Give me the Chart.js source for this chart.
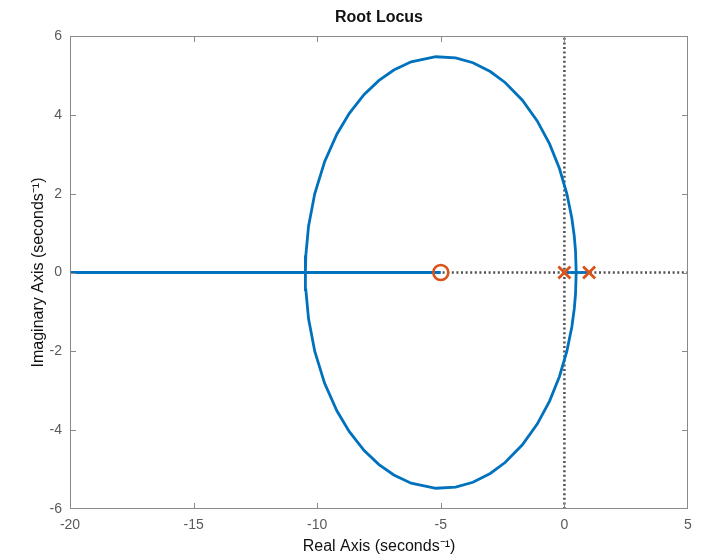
<!DOCTYPE html>
<html>
<head>
<meta charset="utf-8">
<script src="https://cdn.jsdelivr.net/npm/chart.js@4/dist/chart.umd.min.js"></script>
<style>
  html, body { margin: 0; padding: 0; background: #ffffff; }
  #wrap { width: 703px; height: 558px; }
</style>
</head>
<body>
<div id="wrap"><canvas id="c" width="703" height="558"></canvas></div>
<script>
// Root locus branches (real, imaginary parts)
const upperX = [0.477, 0.45, 0.40, 0.30, 0.10, -0.2, -0.6, -1.1, -1.7, -2.4, -3.0, -3.7, -4.4, -5.2, -6.2, -6.9, -7.5, -8.1, -8.7, -9.2, -9.7, -10.1, -10.35, -10.46, -10.477];
const upperY = [0, 0.545, 0.917, 1.382, 1.997, 2.638, 3.262, 3.846, 4.371, 4.821, 5.099, 5.321, 5.444, 5.474, 5.344, 5.137, 4.873, 4.516, 4.039, 3.516, 2.812, 1.997, 1.174, 0.434, 0];
const lowerX = [0.477, 0.45, 0.40, 0.30, 0.10, -0.2, -0.6, -1.1, -1.7, -2.4, -3.0, -3.7, -4.4, -5.2, -6.2, -6.9, -7.5, -8.1, -8.7, -9.2, -9.7, -10.1, -10.35, -10.46, -10.477];
const lowerY = [0, -0.545, -0.917, -1.382, -1.997, -2.638, -3.262, -3.846, -4.371, -4.821, -5.099, -5.321, -5.444, -5.474, -5.344, -5.137, -4.873, -4.516, -4.039, -3.516, -2.812, -1.997, -1.174, -0.434, 0];
const leftAxisX = [-20, -10.477, -5];
const leftAxisY = [0, 0, 0];
const poleAxisX = [0, 0.477, 1];
const poleAxisY = [0, 0, 0];

// Open-loop zero and poles
const zeroX = [-5];
const zeroY = [0];
const poleX = [0, 1];
const poleY = [0, 0];

// Axis ticks
const xTicks = [-20, -15, -10, -5, 0, 5];
const yTicks = [-6, -4, -2, 0, 2, 4, 6];

const pts = (xs, ys) => xs.map((x, i) => ({ x: x, y: ys[i] }));

const BLUE = '#0072BD';
const RED = '#D95319';
const AXIS = '#8a8a8a';
const TEXT = '#5a5a5a';
const FONT = '"Liberation Sans", Arial, Helvetica, sans-serif';

// Box around the plot area with inward tick marks on all four sides
const frame = {
  id: 'frame',
  afterDatasetsDraw(chart) {
    const { ctx, chartArea: a, scales } = chart;
    ctx.save();
    ctx.strokeStyle = AXIS;
    ctx.lineWidth = 1;
    ctx.strokeRect(a.left + 0.5, a.top + 0.5, a.right - a.left - 1, a.bottom - a.top - 1);
    const len = 6;
    ctx.beginPath();
    xTicks.slice(1, -1).forEach(v => {
      const px = Math.round(scales.x.getPixelForValue(v)) + 0.5;
      ctx.moveTo(px, a.bottom); ctx.lineTo(px, a.bottom - len);
      ctx.moveTo(px, a.top); ctx.lineTo(px, a.top + len);
    });
    yTicks.slice(1, -1).forEach(v => {
      const py = Math.round(scales.y.getPixelForValue(v)) + 0.5;
      ctx.moveTo(a.left, py); ctx.lineTo(a.left + len, py);
      ctx.moveTo(a.right, py); ctx.lineTo(a.right - len, py);
    });
    ctx.stroke();
    ctx.restore();
  }
};

const lineSet = (data, order) => ({
  data: data, showLine: true, borderColor: BLUE, borderWidth: 2.8,
  pointRadius: 0, tension: 0, fill: false, order: order
});

const dotted = (data) => ({
  data: data, showLine: true, borderColor: '#505050', borderWidth: 2.5,
  borderDash: [2, 2.6], pointRadius: 0, order: 2
});

new Chart(document.getElementById('c'), {
  type: 'scatter',
  data: {
    datasets: [
      { data: pts(zeroX, zeroY), pointStyle: 'circle', pointRadius: 7.5, pointBorderWidth: 2.6,
        pointBorderColor: RED, pointBackgroundColor: 'rgba(0,0,0,0)', showLine: false, order: 0 },
      { data: pts(poleX, poleY), pointStyle: 'crossRot', pointRadius: 8.5, pointBorderWidth: 2.8,
        pointBorderColor: RED, pointBackgroundColor: RED, showLine: false, order: 0 },
      lineSet(pts(upperX, upperY), 1),
      lineSet(pts(lowerX, lowerY), 1),
      lineSet(pts(leftAxisX, leftAxisY), 1),
      lineSet(pts(poleAxisX, poleAxisY), 1),
      dotted(pts([-20, 5], [0, 0])),
      dotted(pts([0, 0], [-6, 6]))
    ]
  },
  options: {
    responsive: false,
    animation: false,
    devicePixelRatio: 1,
    layout: { padding: { left: 0, right: 15, top: 0, bottom: 0 } },
    plugins: {
      legend: { display: false },
      tooltip: { enabled: false },
      title: {
        display: true, fullSize: false, text: 'Root Locus', color: '#111111',
        font: { family: FONT, size: 16, weight: 'bold' },
        padding: { top: 7.5, bottom: 9.3 }
      }
    },
    scales: {
      x: {
        type: 'linear', min: -20, max: 5,
        afterBuildTicks: s => { s.ticks = xTicks.map(v => ({ value: v })); },
        afterFit: s => { s.height = 49; },
        grid: { display: false, drawTicks: false },
        border: { display: false },
        ticks: { color: TEXT, font: { family: FONT, size: 14 }, padding: 8, maxRotation: 0 },
        title: { display: true, text: 'Real Axis (seconds\u207B\u00B9)', color: '#111111',
          font: { family: FONT, size: 16 }, padding: { top: 2, bottom: 1.4 } }
      },
      y: {
        type: 'linear', min: -6, max: 6,
        afterBuildTicks: s => { s.ticks = yTicks.map(v => ({ value: v })); },
        afterFit: s => { s.width = 70; },
        grid: { display: false, drawTicks: false },
        border: { display: false },
        ticks: { color: TEXT, font: { family: FONT, size: 14 }, padding: 8 },
        title: { display: true, text: 'Imaginary Axis (seconds\u207B\u00B9)', color: '#111111',
          font: { family: FONT, size: 16 }, padding: { top: 28.5, bottom: 0 } }
      }
    }
  },
  plugins: [frame]
});
</script>
</body>
</html>
